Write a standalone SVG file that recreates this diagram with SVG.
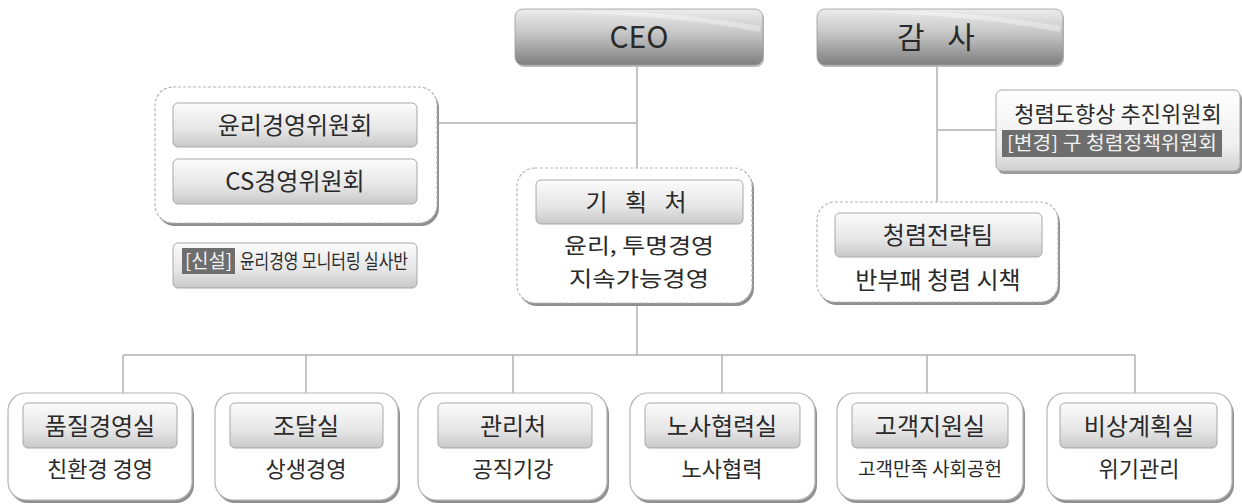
<svg xmlns="http://www.w3.org/2000/svg" width="1242" height="504" viewBox="0 0 1242 504">
<defs>
<linearGradient id="gTop" x1="0" y1="0" x2="0" y2="1">
<stop offset="0" stop-color="#ececec"/><stop offset="0.45" stop-color="#c4c4c4"/><stop offset="1" stop-color="#7e7e7e"/>
</linearGradient>
<linearGradient id="gLab" x1="0" y1="0" x2="0" y2="1">
<stop offset="0" stop-color="#fbfbfb"/><stop offset="0.6" stop-color="#e6e6e6"/><stop offset="1" stop-color="#c8c8c8"/>
</linearGradient>
<linearGradient id="gBox" x1="0" y1="0" x2="0" y2="1">
<stop offset="0" stop-color="#ffffff"/><stop offset="0.7" stop-color="#eeeeee"/><stop offset="1" stop-color="#cfcfcf"/>
</linearGradient>
</defs>
<style>
text{font-family:"Noto Sans CJK KR","Noto Sans",sans-serif;fill:#2a2a2a;text-anchor:middle}
.conn{stroke:#b0b0b0;stroke-width:1.5;fill:none}
.shadow{fill:#8f8f8f}
.outer{fill:#fff;stroke:#b5b5b5;stroke-width:1.2}
.dash{stroke-dasharray:3 2}
.lab{fill:url(#gLab);stroke:#a8a8a8;stroke-width:1}
.top{fill:url(#gTop);stroke:#9a9a9a;stroke-width:0.8}
.big{font-size:30px}
.t{font-size:24px}
.s{font-size:22px}
.dk{fill:#6e6e6e}
.lt{fill:#f2f2f2}
</style>
<rect width="1242" height="504" fill="#fff"/>
<g id="connectors">
<line class="conn" x1="637" y1="65" x2="637" y2="168"/>
<line class="conn" x1="437" y1="123" x2="637" y2="123"/>
<line class="conn" x1="637" y1="303" x2="637" y2="355"/>
<line class="conn" x1="937" y1="65" x2="937" y2="202"/>
<line class="conn" x1="937" y1="130" x2="996" y2="130"/>
<line class="conn" x1="123" y1="355" x2="1135" y2="355"/>
<line class="conn" x1="123" y1="355" x2="123" y2="393"/>
<line class="conn" x1="306" y1="355" x2="306" y2="393"/>
<line class="conn" x1="513" y1="355" x2="513" y2="393"/>
<line class="conn" x1="722" y1="355" x2="722" y2="393"/>
<line class="conn" x1="927" y1="355" x2="927" y2="393"/>
<line class="conn" x1="1135" y1="355" x2="1135" y2="393"/>
</g>
<g id="ceo">
<rect x="516" y="11" width="248" height="56" rx="8" fill="#bdbdbd"/>
<rect class="top" x="515" y="9" width="248" height="56" rx="8"/>
<path d="M560 12 Q680 16 760 32 L760 26 Q680 12 600 11 Z" fill="#fff" opacity="0.35"/>
<text class="big" x="639" y="48">CEO</text>
</g>
<g id="audit">
<rect x="818" y="11" width="246" height="56" rx="8" fill="#bdbdbd"/>
<rect class="top" x="817" y="9" width="246" height="56" rx="8"/>
<path d="M862 12 Q980 16 1060 32 L1060 26 Q980 12 900 11 Z" fill="#fff" opacity="0.35"/>
<text class="big" x="940" y="48" letter-spacing="8">감 사</text>
</g>
<g id="ethics-group">
<rect class="shadow" x="157" y="90" width="282" height="136" rx="18"/>
<rect class="outer dash" x="155" y="87" width="282" height="136" rx="18"/>
<rect class="lab" x="173" y="103" width="244" height="44" rx="5"/>
<text class="t" x="295" y="134">윤리경영위원회</text>
<rect class="lab" x="173" y="159" width="244" height="45" rx="5"/>
<text class="t" x="295" y="190">CS경영위원회</text>
</g>
<g id="monitoring">
<rect class="lab" x="173" y="243" width="244" height="45" rx="5"/>
<rect class="dk" x="182" y="248" width="53" height="26"/>
<text class="lt" x="185" y="268" style="font-size:19px;text-anchor:start" textLength="47" lengthAdjust="spacingAndGlyphs">[신설]</text>
<text x="240" y="269" style="font-size:20px;text-anchor:start" textLength="168" lengthAdjust="spacingAndGlyphs">윤리경영 모니터링 실사반</text>
</g>
<g id="planning">
<rect class="shadow" x="519" y="171" width="235" height="135" rx="18"/>
<rect class="outer dash" x="517" y="168" width="235" height="135" rx="18"/>
<rect class="lab" x="536" y="180" width="207" height="44" rx="5"/>
<text class="t" x="639" y="211" letter-spacing="6">기 획 처</text>
<text x="639" y="253" style="font-size:21px" textLength="150" lengthAdjust="spacingAndGlyphs">윤리, 투명경영</text>
<text x="639" y="286" style="font-size:21px" textLength="140" lengthAdjust="spacingAndGlyphs">지속가능경영</text>
</g>
<g id="integrity-committee">
<rect x="998" y="93" width="244" height="81" rx="6" fill="#9a9a9a"/>
<rect x="996" y="90" width="244" height="81" rx="6" fill="url(#gBox)" stroke="#a8a8a8"/>
<text x="1118" y="122" style="font-size:22px">청렴도향상 추진위원회</text>
<rect class="dk" x="1002" y="130" width="220" height="27"/>
<text class="lt" x="1007" y="150" style="font-size:19px;text-anchor:start" textLength="210" lengthAdjust="spacingAndGlyphs">[변경] 구 청렴정책위원회</text>
</g>
<g id="integrity-team">
<rect class="shadow" x="819" y="205" width="241" height="100" rx="18"/>
<rect class="outer dash" x="817" y="202" width="241" height="100" rx="18"/>
<rect class="lab" x="835" y="213" width="207" height="44" rx="5"/>
<text class="t" x="938" y="244">청렴전략팀</text>
<text class="t" x="938" y="289">반부패 청렴 시책</text>
</g>
<g id="quality">
<rect class="shadow" x="10" y="396" width="184" height="107" rx="18"/>
<rect class="outer" x="8" y="393" width="184" height="107" rx="18"/>
<rect class="lab" x="23" y="403" width="154" height="45" rx="5"/>
<text class="t" x="100" y="435">품질경영실</text>
<text class="s" x="100" y="477">친환경 경영</text>
</g>
<g id="procurement">
<rect class="shadow" x="217" y="396" width="183" height="107" rx="18"/>
<rect class="outer" x="215" y="393" width="183" height="107" rx="18"/>
<rect class="lab" x="230" y="403" width="153" height="45" rx="5"/>
<text class="t" x="306" y="435">조달실</text>
<text class="s" x="306" y="477">상생경영</text>
</g>
<g id="management">
<rect class="shadow" x="420" y="396" width="189" height="107" rx="18"/>
<rect class="outer" x="418" y="393" width="189" height="107" rx="18"/>
<rect class="lab" x="438" y="403" width="154" height="45" rx="5"/>
<text class="t" x="513" y="435">관리처</text>
<text class="s" x="513" y="477">공직기강</text>
</g>
<g id="labor">
<rect class="shadow" x="632" y="396" width="185" height="107" rx="18"/>
<rect class="outer" x="630" y="393" width="185" height="107" rx="18"/>
<rect class="lab" x="645" y="403" width="155" height="45" rx="5"/>
<text class="t" x="722" y="435">노사협력실</text>
<text class="s" x="722" y="477">노사협력</text>
</g>
<g id="customer">
<rect class="shadow" x="839" y="396" width="186" height="107" rx="18"/>
<rect class="outer" x="837" y="393" width="186" height="107" rx="18"/>
<rect class="lab" x="852" y="403" width="156" height="45" rx="5"/>
<text class="t" x="930" y="435">고객지원실</text>
<text x="930" y="476" style="font-size:19px">고객만족 사회공헌</text>
</g>
<g id="emergency">
<rect class="shadow" x="1049" y="396" width="185" height="107" rx="18"/>
<rect class="outer" x="1047" y="393" width="185" height="107" rx="18"/>
<rect class="lab" x="1060" y="403" width="157" height="45" rx="5"/>
<text class="t" x="1139" y="435">비상계획실</text>
<text class="s" x="1139" y="477">위기관리</text>
</g>
</svg>
